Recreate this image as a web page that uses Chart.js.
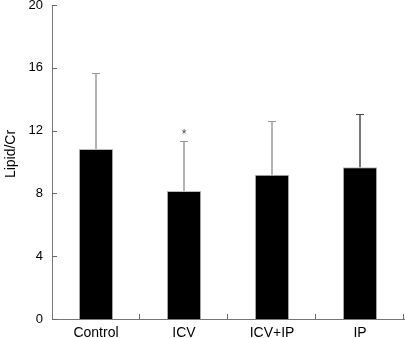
<!DOCTYPE html>
<html>
<head>
<meta charset="utf-8">
<script src="https://cdn.jsdelivr.net/npm/chart.js@4"></script>
<style>
    html, body { margin: 0; padding: 0; background: #fff; }
    #wrap { width: 405px; height: 338px; }
</style>
</head>
<body>
<div id="wrap"><canvas id="lipidChart"></canvas></div>
<script>
// data
const categories = ['Control', 'ICV', 'ICV+IP', 'IP'];
const meanValues = [10.83, 8.15, 9.19, 9.66];
const sdValues = [4.82, 3.17, 3.40, 3.38];
const sigMarks = ['', '*', '', ''];
const yTicks = [0, 4, 8, 12, 16, 20];
const yTitle = 'Lipid/Cr';

const FONT = "'Liberation Sans', Arial, sans-serif";

// error bars, significance mark, inside ticks and y title
const errorBarPlugin = {
    id: 'errorBars',
    afterDatasetsDraw(chart) {
        const ctx = chart.ctx;
        const x = chart.scales.x;
        const y = chart.scales.y;
        const area = chart.chartArea;
        const barColors = ['#9a9a9a', '#9a9a9a', '#9a9a9a', '#4a4a4a'];

        ctx.save();
        meanValues.forEach((m, i) => {
            const px = Math.round(x.getPixelForValue(i));
            const yTop = y.getPixelForValue(m + sdValues[i]);
            const yBase = y.getPixelForValue(m);
            ctx.strokeStyle = barColors[i];
            ctx.lineWidth = 1.5;
            ctx.beginPath();
            ctx.moveTo(px, yBase);
            ctx.lineTo(px, yTop);
            ctx.stroke();
            ctx.lineWidth = 1;
            ctx.beginPath();
            ctx.moveTo(px - 4, Math.round(yTop) + 0.5);
            ctx.lineTo(px + 4, Math.round(yTop) + 0.5);
            ctx.stroke();

            if (sigMarks[i]) {
                ctx.fillStyle = '#444';
                ctx.font = '12px ' + FONT;
                ctx.textAlign = 'center';
                ctx.textBaseline = 'middle';
                ctx.fillText(sigMarks[i], px, yTop - 7);
            }
        });

        // y ticks pointing into the plot
        ctx.strokeStyle = '#666';
        ctx.lineWidth = 1;
        yTicks.forEach(v => {
            const py = Math.round(y.getPixelForValue(v)) + 0.5;
            ctx.beginPath();
            ctx.moveTo(area.left, py);
            ctx.lineTo(area.left + 5, py);
            ctx.stroke();
        });

        // x ticks between categories, pointing up
        categories.forEach((c, i) => {
            const px = Math.round(x.getPixelForValue(i + 0.5)) - 0.5;
            ctx.beginPath();
            ctx.moveTo(px, area.bottom);
            ctx.lineTo(px, area.bottom - 5);
            ctx.stroke();
        });

        // y axis title
        ctx.fillStyle = '#000';
        ctx.font = '14px ' + FONT;
        ctx.textAlign = 'center';
        ctx.textBaseline = 'middle';
        ctx.translate(11, 154);
        ctx.rotate(-Math.PI / 2);
        ctx.fillText(yTitle, 0, 0);
        ctx.restore();
    }
};

new Chart(document.getElementById('lipidChart'), {
    type: 'bar',
    data: {
        labels: categories,
        datasets: [{
            data: meanValues,
            backgroundColor: '#000',
            borderColor: '#bbb',
            borderWidth: 1,
            categoryPercentage: 1,
            barPercentage: 0.39
        }]
    },
    options: {
        responsive: true,
        maintainAspectRatio: false,
        animation: false,
        layout: { padding: { top: 5, right: 1, left: 0, bottom: 0 } },
        plugins: {
            legend: { display: false },
            tooltip: { enabled: false }
        },
        scales: {
            x: {
                offset: true,
                grid: { display: false, drawTicks: false },
                border: { display: true, color: '#777', width: 1 },
                ticks: {
                    color: '#000',
                    padding: 6,
                    font: { family: FONT, size: 14 }
                },
                afterFit(scale) {
                    scale.height = 19;
                    scale.paddingLeft = 0;
                    scale.paddingRight = 0;
                }
            },
            y: {
                min: 0,
                max: 20,
                afterBuildTicks(scale) {
                    scale.ticks = yTicks.map(v => ({ value: v }));
                },
                grid: { display: false, drawTicks: false },
                border: { display: true, color: '#777', width: 1 },
                ticks: {
                    color: '#000',
                    padding: 9,
                    font: { family: FONT, size: 13 }
                },
                afterFit(scale) {
                    scale.width = 52;
                    scale.paddingTop = 0;
                    scale.paddingBottom = 0;
                }
            }
        }
    },
    plugins: [errorBarPlugin]
});
</script>
</body>
</html>
